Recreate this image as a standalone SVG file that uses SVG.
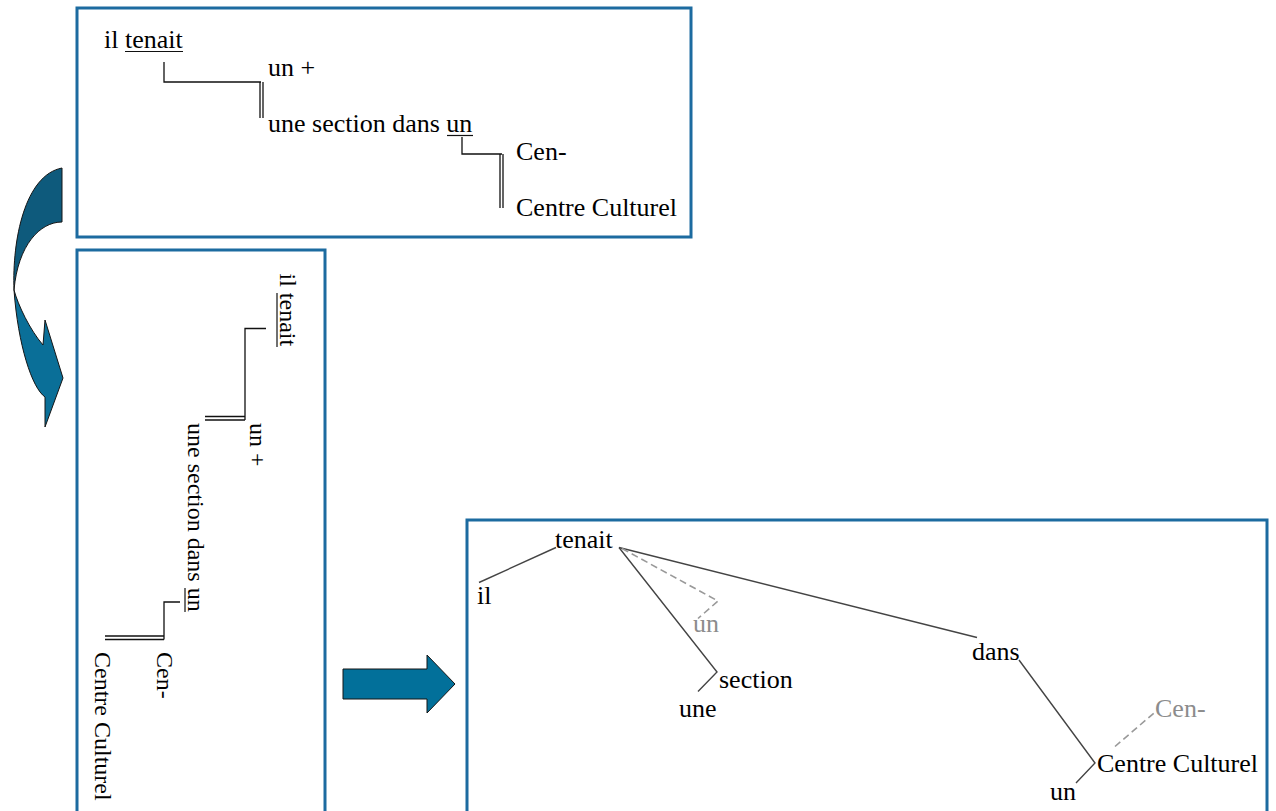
<svg xmlns="http://www.w3.org/2000/svg" width="1276" height="811" viewBox="0 0 1276 811">
<style>
.panel{fill:#fff;stroke:#1c6ba0;stroke-width:3}
.t{font-family:"Liberation Serif","Times New Roman",serif;font-size:26px;fill:#000}
.t2{font-family:"Liberation Serif","Times New Roman",serif;font-size:24px;fill:#000}
.g{fill:#8c8c8c}
.ln{fill:none;stroke:#111;stroke-width:1.3}
.ul{fill:none;stroke:#111;stroke-width:1.2}
.tl{fill:none;stroke:#444;stroke-width:1.4}
.dl{fill:none;stroke:#999;stroke-width:1.6;stroke-dasharray:7 4}
.arr{stroke:#151515;stroke-width:1}
</style>
<rect width="1276" height="811" fill="#fff"/>

<!-- Panel 1 -->
<g id="panel1">
<rect class="panel" x="77" y="8" width="614" height="229"/>
<g id="p1-iltenait"><text class="t" x="104" y="48">il tenait</text><line class="ul" x1="125" y1="51.5" x2="183" y2="51.5"/></g>
<g id="p1-un"><text class="t" x="268" y="76">un +</text></g>
<g id="p1-une"><text class="t" x="268" y="132">une section dans un</text><line class="ul" x1="447" y1="135.5" x2="473" y2="135.5"/></g>
<g id="p1-cen"><text class="t" x="516" y="160">Cen-</text></g>
<g id="p1-centre"><text class="t" x="516" y="216">Centre Culturel</text></g>
<g id="p1-connectors">
<polyline class="ln" points="164,62 164,82 261,82"/>
<line class="ln" x1="260" y1="82" x2="260" y2="118"/>
<line class="ln" x1="263" y1="82" x2="263" y2="118"/>
<polyline class="ln" points="462,137 462,154 502,154"/>
<line class="ln" x1="500" y1="154" x2="500" y2="208"/>
<line class="ln" x1="503" y1="154" x2="503" y2="208"/>
</g>
</g>

<!-- Panel 2 -->
<g id="panel2">
<rect class="panel" x="77" y="250" width="248" height="580"/>
<g id="p2-iltenait"><text class="t2" transform="translate(280,273.5) rotate(90)">il tenait</text><line class="ul" x1="277" y1="293" x2="277" y2="347"/></g>
<g id="p2-un"><text class="t2" transform="translate(250,423) rotate(90)">un +</text></g>
<g id="p2-une"><text class="t2" transform="translate(188,423) rotate(90)">une section dans un</text><line class="ul" x1="185" y1="588" x2="185" y2="612"/></g>
<g id="p2-cen"><text class="t2" transform="translate(157,652) rotate(90)">Cen-</text></g>
<g id="p2-centre"><text class="t2" transform="translate(95,652) rotate(90)">Centre Culturel</text></g>
<g id="p2-connectors">
<polyline class="ln" points="266,328.5 245,328.5 245,420"/>
<line class="ln" x1="205" y1="416.5" x2="245" y2="416.5"/>
<line class="ln" x1="205" y1="420" x2="245" y2="420"/>
<polyline class="ln" points="180,602 164,602 164,639.5"/>
<line class="ln" x1="105" y1="636" x2="164" y2="636"/>
<line class="ln" x1="105" y1="639.5" x2="164" y2="639.5"/>
</g>
</g>

<!-- Panel 3 -->
<g id="panel3">
<rect class="panel" x="467" y="520" width="800" height="310"/>
<g id="n-tenait"><text class="t" x="555" y="548">tenait</text></g>
<g id="n-il"><text class="t" x="477" y="604">il</text></g>
<g id="n-un1"><text class="t g" x="693" y="632">un</text></g>
<g id="n-section"><text class="t" x="719" y="688">section</text></g>
<g id="n-une"><text class="t" x="679" y="717">une</text></g>
<g id="n-dans"><text class="t" x="972" y="660">dans</text></g>
<g id="n-cen"><text class="t g" x="1155" y="717">Cen-</text></g>
<g id="n-centre"><text class="t" x="1097" y="772">Centre Culturel</text></g>
<g id="n-un2"><text class="t" x="1050" y="800">un</text></g>
<g id="p3-connectors">
<line class="tl" x1="479" y1="582.5" x2="556" y2="547.5"/>
<line class="tl" x1="619" y1="547.5" x2="977" y2="637.5"/>
<polyline class="tl" points="619,547.5 717,672 698,691.5"/>
<polyline class="dl" points="622,548.5 718,601 698,618.5"/>
<polyline class="tl" points="1019,660 1095,763 1076,783"/>
<line class="dl" x1="1115" y1="746.5" x2="1154" y2="713"/>
</g>
</g>

<!-- Arrows -->
<g id="curved-arrow">
<path class="arr" fill="#0e5a7c" d="M62,168 L62,222 C40,222 18,245 14,290 C12,240 25,175 62,168 Z"/>
<path class="arr" fill="#0a6f98" d="M14,290 C18,305 30,330 43,345 L45,320 L63,378 L45,427 L45,397 C32,388 18,345 14,290 Z"/>
</g>
<g id="right-arrow">
<polygon class="arr" fill="#02709a" points="343,669 427,669 427,655 455,684 427,713 427,699 343,699"/>
</g>
</svg>
